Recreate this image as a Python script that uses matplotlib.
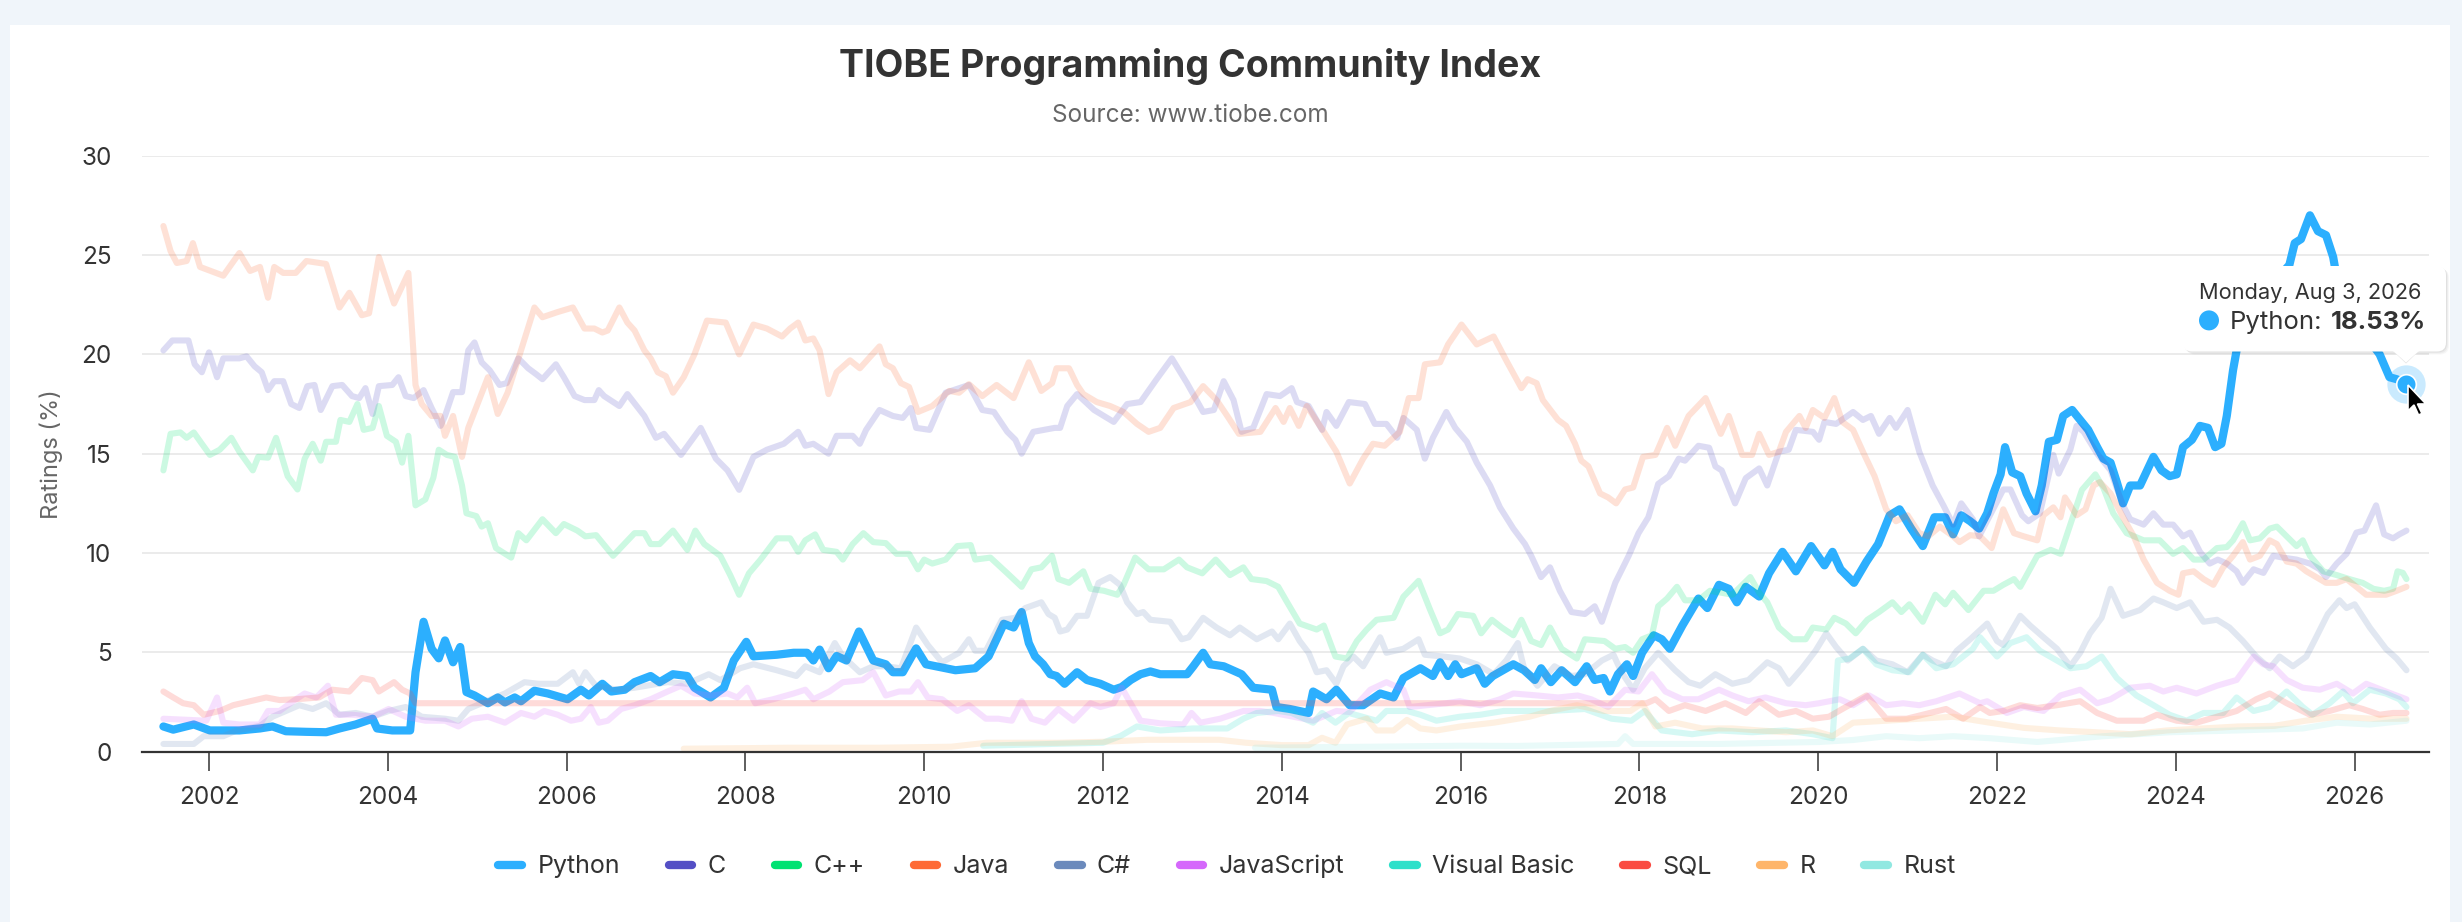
import matplotlib
matplotlib.use('Agg')
import matplotlib.pyplot as plt
from matplotlib.lines import Line2D
from matplotlib.patches import Rectangle, FancyBboxPatch, Polygon, Circle
from matplotlib.transforms import IdentityTransform

plt.rcParams['font.family'] = ['Inter', 'DejaVu Sans']

W, H = 2462, 922  # output size in pixels (dpi 100)

# ---------------------------------------------------------------
# Data: (decimal year, rating %)
# ---------------------------------------------------------------
PYTHON = [
    (2001.49, 1.27), (2001.60, 1.11), (2001.83, 1.37), (2002.01, 1.07), (2002.34, 1.07),
    (2002.57, 1.17), (2002.71, 1.27), (2002.86, 1.03), (2003.09, 1.0), (2003.31, 0.98),
    (2003.46, 1.17), (2003.64, 1.37), (2003.83, 1.66), (2003.88, 1.17), (2004.05, 1.07),
    (2004.25, 1.07), (2004.31, 4.0), (2004.40, 6.54), (2004.49, 5.18), (2004.57, 4.7),
    (2004.64, 5.6), (2004.73, 4.5), (2004.81, 5.27), (2004.88, 3.0), (2004.97, 2.83),
    (2005.12, 2.44), (2005.23, 2.73), (2005.31, 2.48), (2005.42, 2.73), (2005.49, 2.54),
    (2005.64, 3.07), (2005.79, 2.93), (2006.01, 2.64), (2006.16, 3.12), (2006.25, 2.83),
    (2006.40, 3.42), (2006.50, 3.03), (2006.65, 3.12), (2006.76, 3.5), (2006.94, 3.81),
    (2007.04, 3.5), (2007.19, 3.9), (2007.35, 3.81), (2007.43, 3.22), (2007.61, 2.73),
    (2007.76, 3.22), (2007.87, 4.59), (2008.01, 5.53), (2008.09, 4.8), (2008.35, 4.88),
    (2008.54, 4.98), (2008.69, 4.98), (2008.76, 4.59), (2008.83, 5.14), (2008.93, 4.2),
    (2009.02, 4.82), (2009.13, 4.59), (2009.27, 6.05), (2009.43, 4.59), (2009.57, 4.4),
    (2009.65, 4.0), (2009.76, 4.0), (2009.91, 5.2), (2010.02, 4.4), (2010.35, 4.1),
    (2010.57, 4.2), (2010.72, 4.8), (2010.89, 6.44), (2011.0, 6.25), (2011.09, 7.03),
    (2011.17, 5.47), (2011.24, 4.8), (2011.33, 4.4), (2011.41, 3.9), (2011.48, 3.81),
    (2011.57, 3.42), (2011.71, 4.0), (2011.82, 3.61), (2011.97, 3.42), (2012.12, 3.12),
    (2012.21, 3.26), (2012.31, 3.61), (2012.42, 3.9), (2012.53, 4.04), (2012.64, 3.9),
    (2012.94, 3.9), (2013.01, 4.3), (2013.12, 4.98), (2013.20, 4.4), (2013.35, 4.3),
    (2013.55, 3.9), (2013.68, 3.22), (2013.89, 3.12), (2013.94, 2.25), (2014.09, 2.15),
    (2014.30, 1.95), (2014.35, 3.03), (2014.50, 2.64), (2014.61, 3.12), (2014.76, 2.34),
    (2014.91, 2.34), (2015.10, 2.93), (2015.25, 2.73), (2015.36, 3.71), (2015.55, 4.2),
    (2015.69, 3.81), (2015.77, 4.5), (2015.86, 3.81), (2015.94, 4.4), (2016.01, 3.9),
    (2016.18, 4.2), (2016.27, 3.42), (2016.36, 3.81), (2016.59, 4.4), (2016.71, 4.1),
    (2016.83, 3.61), (2016.90, 4.2), (2017.01, 3.5), (2017.13, 4.1), (2017.28, 3.5),
    (2017.41, 4.3), (2017.50, 3.61), (2017.60, 3.71), (2017.67, 3.03), (2017.76, 3.9),
    (2017.86, 4.4), (2017.93, 3.81), (2018.03, 4.98), (2018.16, 5.86), (2018.25, 5.66),
    (2018.34, 5.18), (2018.48, 6.35), (2018.66, 7.71), (2018.76, 7.23), (2018.89, 8.4),
    (2019.0, 8.2), (2019.09, 7.52), (2019.19, 8.3), (2019.34, 7.81), (2019.45, 8.98),
    (2019.60, 10.06), (2019.75, 9.08), (2019.92, 10.35), (2020.07, 9.38), (2020.16, 10.06),
    (2020.25, 9.18), (2020.40, 8.5), (2020.54, 9.57), (2020.67, 10.45), (2020.80, 11.9),
    (2020.91, 12.2), (2021.04, 11.23), (2021.17, 10.35), (2021.30, 11.8), (2021.42, 11.8),
    (2021.51, 10.94), (2021.60, 11.9), (2021.70, 11.6), (2021.80, 11.23), (2021.89, 12.0),
    (2021.96, 13.0), (2022.04, 13.96), (2022.09, 15.33), (2022.17, 14.06), (2022.26, 13.87),
    (2022.33, 13.0), (2022.43, 12.1), (2022.50, 13.4), (2022.58, 15.6), (2022.67, 15.7),
    (2022.74, 16.9), (2022.84, 17.2), (2022.93, 16.7), (2023.02, 16.2), (2023.12, 15.33),
    (2023.19, 14.75), (2023.27, 14.55), (2023.34, 13.57), (2023.41, 12.5), (2023.49, 13.4),
    (2023.60, 13.4), (2023.75, 14.84), (2023.84, 14.16), (2023.93, 13.87), (2024.01, 13.96),
    (2024.08, 15.33), (2024.18, 15.7), (2024.27, 16.4), (2024.36, 16.3), (2024.44, 15.33),
    (2024.51, 15.5), (2024.57, 16.9), (2024.64, 19.2), (2024.72, 21.2), (2024.85, 22.6),
    (2025.0, 23.3), (2025.15, 23.9), (2025.27, 24.5), (2025.33, 25.6), (2025.40, 25.8),
    (2025.50, 27.0), (2025.59, 26.2), (2025.68, 26.0), (2025.76, 24.9), (2025.85, 22.6),
    (2026.0, 21.6), (2026.15, 20.8), (2026.28, 20.0), (2026.39, 18.85), (2026.47, 18.75),
    (2026.58, 18.53),
]

C_LANG = [
    (2001.49, 20.2), (2001.59, 20.7), (2001.77, 20.7), (2001.84, 19.5), (2001.92, 19.1),
    (2002.00, 20.1), (2002.09, 18.85), (2002.16, 19.8), (2002.34, 19.8), (2002.42, 19.9),
    (2002.51, 19.4), (2002.59, 19.1), (2002.66, 18.2), (2002.73, 18.65), (2002.83, 18.65),
    (2002.92, 17.5), (2003.01, 17.3), (2003.10, 18.4), (2003.18, 18.46), (2003.25, 17.2),
    (2003.38, 18.4), (2003.49, 18.46), (2003.60, 17.9), (2003.68, 17.8), (2003.75, 18.3),
    (2003.83, 17.0), (2003.90, 18.4), (2004.05, 18.46), (2004.12, 18.85), (2004.20, 17.9),
    (2004.29, 17.8), (2004.40, 18.2), (2004.49, 17.3), (2004.59, 16.4), (2004.64, 16.9),
    (2004.73, 18.1), (2004.83, 18.1), (2004.90, 20.2), (2004.97, 20.6), (2005.05, 19.6),
    (2005.14, 19.2), (2005.25, 18.46), (2005.33, 18.55), (2005.46, 19.8), (2005.57, 19.3),
    (2005.66, 19.0), (2005.73, 18.75), (2005.88, 19.5), (2005.97, 18.85), (2006.09, 17.9),
    (2006.20, 17.7), (2006.31, 17.7), (2006.36, 18.2), (2006.42, 17.9), (2006.59, 17.4),
    (2006.68, 18.0), (2006.87, 16.9), (2007.0, 15.8), (2007.09, 16.0), (2007.28, 14.94),
    (2007.50, 16.3), (2007.67, 14.75), (2007.80, 14.16), (2007.93, 13.18), (2008.09, 14.84),
    (2008.24, 15.2), (2008.43, 15.5), (2008.59, 16.1), (2008.67, 15.4), (2008.76, 15.5),
    (2008.93, 15.0), (2009.02, 15.9), (2009.20, 15.9), (2009.28, 15.5), (2009.35, 16.2),
    (2009.50, 17.2), (2009.65, 16.9), (2009.76, 16.8), (2009.85, 17.3), (2009.91, 16.3),
    (2010.06, 16.2), (2010.24, 18.07), (2010.50, 18.46), (2010.65, 17.2), (2010.78, 17.1),
    (2010.93, 16.1), (2011.02, 15.7), (2011.09, 15.0), (2011.22, 16.1), (2011.46, 16.3),
    (2011.52, 16.3), (2011.60, 17.4), (2011.71, 18.0), (2011.90, 17.2), (2012.12, 16.6),
    (2012.27, 17.5), (2012.42, 17.6), (2012.60, 18.75), (2012.77, 19.8), (2012.94, 18.55),
    (2013.12, 17.1), (2013.24, 17.2), (2013.35, 18.65), (2013.46, 17.7), (2013.55, 16.1),
    (2013.68, 16.3), (2013.83, 18.0), (2013.98, 17.9), (2014.11, 18.3), (2014.17, 17.6),
    (2014.30, 17.4), (2014.45, 16.2), (2014.50, 17.1), (2014.61, 16.4), (2014.75, 17.6),
    (2014.93, 17.5), (2015.04, 16.5), (2015.17, 16.5), (2015.29, 15.8), (2015.36, 16.8),
    (2015.51, 16.2), (2015.60, 14.75), (2015.69, 15.8), (2015.84, 17.1), (2015.94, 16.3),
    (2016.07, 15.6), (2016.18, 14.55), (2016.33, 13.4), (2016.44, 12.3), (2016.59, 11.23),
    (2016.72, 10.45), (2016.79, 9.86), (2016.90, 8.79), (2017.0, 9.28), (2017.11, 8.1),
    (2017.24, 7.03), (2017.39, 6.93), (2017.50, 7.32), (2017.58, 6.54), (2017.73, 8.5),
    (2017.88, 9.86), (2017.99, 11.0), (2018.10, 11.8), (2018.21, 13.48), (2018.33, 13.87),
    (2018.44, 14.75), (2018.51, 14.65), (2018.66, 15.4), (2018.78, 15.3), (2018.85, 14.36),
    (2018.92, 14.16), (2019.07, 12.5), (2019.19, 13.77), (2019.34, 14.26), (2019.43, 13.4),
    (2019.56, 15.1), (2019.67, 15.2), (2019.75, 16.2), (2019.94, 16.1), (2020.01, 15.7),
    (2020.07, 16.6), (2020.20, 16.5), (2020.39, 17.1), (2020.50, 16.7), (2020.59, 16.9),
    (2020.68, 16.0), (2020.80, 16.8), (2020.87, 16.3), (2021.0, 17.2), (2021.13, 15.1),
    (2021.28, 13.4), (2021.40, 12.4), (2021.51, 11.43), (2021.60, 12.5), (2021.73, 11.7),
    (2021.80, 10.84), (2022.07, 13.2), (2022.15, 13.2), (2022.28, 11.9), (2022.35, 11.6),
    (2022.48, 12.0), (2022.63, 14.94), (2022.69, 14.0), (2022.82, 15.2), (2022.89, 16.4),
    (2022.97, 16.1), (2023.12, 15.0), (2023.27, 14.16), (2023.36, 13.0), (2023.41, 12.4),
    (2023.49, 11.7), (2023.64, 11.43), (2023.75, 12.0), (2023.86, 11.43), (2023.97, 11.43),
    (2024.08, 10.84), (2024.16, 11.03), (2024.27, 10.06), (2024.38, 9.47), (2024.47, 9.67),
    (2024.57, 9.47), (2024.68, 9.08), (2024.75, 8.5), (2024.87, 9.18), (2024.98, 9.0),
    (2025.09, 9.86), (2025.20, 9.77), (2025.35, 9.67), (2025.50, 9.47), (2025.61, 9.18),
    (2025.68, 8.79), (2025.80, 9.47), (2025.91, 9.96), (2026.02, 11.03), (2026.11, 11.13),
    (2026.24, 12.4), (2026.33, 10.94), (2026.43, 10.74), (2026.50, 10.94), (2026.58, 11.13),
]

CPP = [
    (2001.49, 14.16), (2001.57, 16.0), (2001.68, 16.07), (2001.75, 15.8), (2001.83, 16.07),
    (2001.92, 15.5), (2002.01, 14.94), (2002.12, 15.2), (2002.25, 15.8), (2002.34, 15.1),
    (2002.49, 14.16), (2002.55, 14.84), (2002.66, 14.8), (2002.75, 15.8), (2002.88, 13.87),
    (2002.99, 13.2), (2003.07, 14.75), (2003.16, 15.5), (2003.25, 14.65), (2003.31, 15.6),
    (2003.42, 15.6), (2003.47, 16.7), (2003.57, 16.6), (2003.66, 17.5), (2003.73, 16.2),
    (2003.83, 16.3), (2003.90, 17.4), (2003.99, 15.9), (2004.09, 15.6), (2004.16, 14.55),
    (2004.23, 15.9), (2004.31, 12.4), (2004.42, 12.7), (2004.51, 13.8), (2004.57, 15.2),
    (2004.66, 14.94), (2004.75, 14.84), (2004.83, 13.4), (2004.88, 12.0), (2004.99, 11.86),
    (2005.05, 11.33), (2005.12, 11.5), (2005.21, 10.25), (2005.38, 9.77), (2005.46, 11.0),
    (2005.55, 10.64), (2005.73, 11.7), (2005.88, 11.0), (2005.97, 11.46), (2006.12, 11.13),
    (2006.21, 10.84), (2006.33, 10.9), (2006.52, 9.86), (2006.76, 11.0), (2006.87, 11.0),
    (2006.94, 10.45), (2007.04, 10.45), (2007.19, 11.13), (2007.35, 10.16), (2007.44, 11.13),
    (2007.54, 10.45), (2007.72, 9.86), (2007.83, 8.89), (2007.93, 7.9), (2008.04, 8.98),
    (2008.17, 9.67), (2008.35, 10.74), (2008.50, 10.74), (2008.59, 10.06), (2008.67, 10.64),
    (2008.78, 10.94), (2008.87, 10.16), (2009.02, 10.06), (2009.09, 9.67), (2009.20, 10.45),
    (2009.32, 11.0), (2009.43, 10.55), (2009.57, 10.5), (2009.69, 9.96), (2009.83, 9.96),
    (2009.93, 9.18), (2010.0, 9.67), (2010.09, 9.47), (2010.24, 9.67), (2010.37, 10.35),
    (2010.52, 10.4), (2010.57, 9.67), (2010.74, 9.77), (2010.93, 8.98), (2011.09, 8.3),
    (2011.20, 9.18), (2011.31, 9.28), (2011.43, 9.86), (2011.50, 8.69), (2011.62, 8.5),
    (2011.78, 9.08), (2011.86, 8.2), (2012.01, 8.1), (2012.16, 7.9), (2012.23, 8.4),
    (2012.36, 9.77), (2012.51, 9.18), (2012.68, 9.18), (2012.85, 9.67), (2012.94, 9.28),
    (2013.11, 8.98), (2013.26, 9.67), (2013.42, 8.89), (2013.57, 9.28), (2013.66, 8.69),
    (2013.83, 8.59), (2013.96, 8.3), (2014.06, 7.52), (2014.20, 6.45), (2014.39, 6.15),
    (2014.47, 6.35), (2014.60, 4.79), (2014.73, 4.69), (2014.84, 5.57), (2014.95, 6.15),
    (2015.06, 6.64), (2015.25, 6.74), (2015.36, 7.8), (2015.53, 8.6), (2015.66, 7.13),
    (2015.77, 5.96), (2015.86, 6.15), (2015.97, 6.93), (2016.14, 6.84), (2016.23, 5.96),
    (2016.35, 6.64), (2016.46, 6.25), (2016.59, 5.86), (2016.68, 6.64), (2016.79, 5.57),
    (2016.90, 5.37), (2017.0, 6.25), (2017.13, 5.18), (2017.30, 4.69), (2017.39, 5.66),
    (2017.61, 5.57), (2017.73, 5.18), (2017.84, 5.27), (2017.93, 4.98), (2018.03, 5.66),
    (2018.14, 5.86), (2018.21, 7.32), (2018.31, 7.71), (2018.42, 8.3), (2018.51, 7.62),
    (2018.66, 7.62), (2018.79, 8.1), (2018.92, 8.0), (2019.04, 7.9), (2019.24, 8.79),
    (2019.34, 8.0), (2019.43, 7.52), (2019.56, 6.25), (2019.71, 5.66), (2019.86, 5.66),
    (2019.94, 6.25), (2020.09, 6.15), (2020.18, 6.74), (2020.31, 6.45), (2020.42, 5.96),
    (2020.55, 6.64), (2020.68, 7.03), (2020.83, 7.52), (2020.93, 7.03), (2021.02, 7.42),
    (2021.17, 6.54), (2021.31, 7.9), (2021.42, 7.42), (2021.51, 8.0), (2021.68, 7.13),
    (2021.85, 8.1), (2021.96, 8.1), (2022.07, 8.4), (2022.19, 8.69), (2022.26, 8.3),
    (2022.45, 9.86), (2022.60, 10.16), (2022.71, 9.96), (2022.82, 11.43), (2022.95, 13.18),
    (2023.10, 13.96), (2023.19, 13.28), (2023.30, 12.0), (2023.45, 11.0), (2023.64, 10.64),
    (2023.82, 10.64), (2023.97, 9.96), (2024.08, 10.25), (2024.20, 9.67), (2024.31, 9.67),
    (2024.46, 10.25), (2024.57, 10.3), (2024.64, 10.64), (2024.75, 11.5), (2024.83, 10.64),
    (2024.94, 10.74), (2025.05, 11.23), (2025.13, 11.33), (2025.24, 10.84), (2025.35, 10.35),
    (2025.42, 10.64), (2025.50, 9.86), (2025.65, 9.08), (2025.80, 8.89), (2025.94, 8.69),
    (2026.09, 8.5), (2026.21, 8.2), (2026.33, 8.1), (2026.43, 8.2), (2026.48, 9.08),
    (2026.54, 9.0), (2026.58, 8.69),
]

JAVA = [
    (2001.49, 26.46), (2001.57, 25.2), (2001.64, 24.6), (2001.75, 24.7), (2001.82, 25.6),
    (2001.90, 24.4), (2002.16, 23.96), (2002.34, 25.1), (2002.46, 24.2), (2002.57, 24.4),
    (2002.66, 22.85), (2002.73, 24.4), (2002.83, 24.1), (2002.97, 24.1), (2003.09, 24.7),
    (2003.31, 24.55), (2003.46, 22.36), (2003.57, 23.1), (2003.71, 21.97), (2003.79, 22.07),
    (2003.90, 24.9), (2004.07, 22.56), (2004.23, 24.1), (2004.31, 18.46), (2004.38, 17.5),
    (2004.49, 16.9), (2004.59, 16.9), (2004.64, 15.9), (2004.73, 16.9), (2004.83, 14.84),
    (2004.90, 16.3), (2005.12, 18.85), (2005.23, 17.0), (2005.34, 18.07), (2005.49, 20.2),
    (2005.64, 22.36), (2005.73, 21.87), (2005.90, 22.13), (2006.07, 22.36), (2006.20, 21.3),
    (2006.31, 21.3), (2006.40, 21.1), (2006.46, 21.2), (2006.59, 22.36), (2006.68, 21.6),
    (2006.76, 21.2), (2006.87, 20.2), (2006.94, 19.8), (2007.02, 19.1), (2007.11, 18.9),
    (2007.19, 18.07), (2007.31, 18.85), (2007.43, 20.0), (2007.57, 21.7), (2007.78, 21.6),
    (2007.93, 20.0), (2008.09, 21.5), (2008.24, 21.3), (2008.41, 20.9), (2008.50, 21.3),
    (2008.59, 21.6), (2008.67, 20.7), (2008.76, 20.8), (2008.83, 20.2), (2008.93, 18.0),
    (2009.02, 19.1), (2009.17, 19.7), (2009.28, 19.3), (2009.50, 20.4), (2009.57, 19.5),
    (2009.65, 19.3), (2009.74, 18.55), (2009.83, 18.36), (2009.93, 17.1), (2010.09, 17.4),
    (2010.28, 18.16), (2010.39, 18.07), (2010.50, 18.5), (2010.65, 17.9), (2010.81, 18.46),
    (2011.0, 17.8), (2011.17, 19.6), (2011.31, 18.16), (2011.43, 18.55), (2011.48, 19.3),
    (2011.62, 19.3), (2011.71, 18.46), (2011.78, 18.0), (2011.93, 17.6), (2012.08, 17.4),
    (2012.23, 17.1), (2012.38, 16.5), (2012.51, 16.1), (2012.64, 16.3), (2012.79, 17.3),
    (2012.98, 17.6), (2013.12, 18.4), (2013.27, 17.7), (2013.39, 16.9), (2013.52, 16.0),
    (2013.76, 16.1), (2013.93, 17.3), (2014.02, 16.6), (2014.09, 17.3), (2014.19, 16.4),
    (2014.28, 17.4), (2014.47, 16.1), (2014.61, 15.1), (2014.76, 13.5), (2014.91, 14.75),
    (2015.02, 15.5), (2015.15, 15.4), (2015.32, 16.1), (2015.42, 17.8), (2015.53, 17.8),
    (2015.60, 19.5), (2015.77, 19.6), (2015.86, 20.5), (2016.01, 21.5), (2016.18, 20.5),
    (2016.37, 20.9), (2016.51, 19.7), (2016.68, 18.3), (2016.75, 18.75), (2016.85, 18.55),
    (2016.92, 17.7), (2017.09, 16.7), (2017.18, 16.4), (2017.28, 15.5), (2017.35, 14.65),
    (2017.43, 14.36), (2017.56, 13.0), (2017.65, 12.8), (2017.74, 12.5), (2017.84, 13.2),
    (2017.93, 13.3), (2018.04, 14.84), (2018.18, 14.94), (2018.31, 16.3), (2018.40, 15.4),
    (2018.55, 16.9), (2018.74, 17.8), (2018.91, 16.0), (2019.0, 16.9), (2019.15, 14.94),
    (2019.26, 14.94), (2019.34, 16.0), (2019.45, 14.94), (2019.56, 15.1), (2019.64, 16.1),
    (2019.79, 16.9), (2019.86, 16.3), (2019.94, 17.2), (2020.07, 16.8), (2020.18, 17.8),
    (2020.27, 16.6), (2020.39, 16.2), (2020.50, 15.1), (2020.63, 13.87), (2020.76, 12.2),
    (2020.87, 11.6), (2021.0, 11.9), (2021.13, 11.0), (2021.23, 10.84), (2021.36, 11.33),
    (2021.51, 10.84), (2021.58, 10.55), (2021.70, 10.9), (2021.81, 10.84), (2021.94, 10.25),
    (2022.07, 12.2), (2022.19, 11.0), (2022.30, 10.84), (2022.45, 10.64), (2022.52, 11.9),
    (2022.63, 12.3), (2022.71, 11.8), (2022.76, 12.8), (2022.89, 11.9), (2022.99, 12.2),
    (2023.08, 13.4), (2023.15, 13.57), (2023.27, 13.0), (2023.41, 11.8), (2023.53, 10.84),
    (2023.64, 9.67), (2023.79, 8.5), (2023.93, 8.1), (2024.03, 7.9), (2024.08, 8.98),
    (2024.20, 9.08), (2024.31, 8.69), (2024.42, 8.4), (2024.53, 9.28), (2024.64, 9.86),
    (2024.75, 10.55), (2024.83, 9.67), (2024.94, 9.86), (2025.05, 10.64), (2025.13, 10.45),
    (2025.24, 9.57), (2025.35, 9.47), (2025.46, 9.08), (2025.57, 8.79), (2025.68, 8.5),
    (2025.80, 8.5), (2025.91, 8.69), (2026.02, 8.3), (2026.13, 7.9), (2026.35, 7.9),
    (2026.47, 8.1), (2026.58, 8.3),
]

CSHARP = [
    (2001.49, 0.39), (2001.83, 0.39), (2001.94, 0.78), (2002.16, 0.78), (2002.31, 1.07),
    (2002.57, 1.3), (2002.71, 1.76), (2002.86, 2.05), (2003.01, 2.34), (2003.16, 2.15),
    (2003.31, 2.44), (2003.46, 1.86), (2003.64, 1.95), (2003.83, 1.76), (2004.01, 2.05),
    (2004.20, 2.25), (2004.38, 1.76), (2004.64, 1.66), (2004.79, 1.56), (2004.90, 2.15),
    (2005.05, 2.44), (2005.31, 2.93), (2005.53, 3.5), (2005.68, 3.42), (2005.90, 3.42),
    (2006.07, 4.0), (2006.14, 3.42), (2006.21, 4.0), (2006.33, 3.3), (2006.57, 3.12),
    (2006.76, 3.22), (2007.13, 3.5), (2007.35, 3.42), (2007.59, 3.9), (2007.72, 3.6),
    (2007.94, 4.2), (2008.09, 4.4), (2008.35, 4.1), (2008.57, 3.81), (2008.67, 4.3),
    (2008.83, 4.0), (2009.0, 5.47), (2009.09, 4.8), (2009.28, 4.0), (2009.43, 4.3),
    (2009.57, 4.3), (2009.74, 4.2), (2009.91, 6.25), (2010.04, 5.37), (2010.20, 4.5),
    (2010.39, 4.98), (2010.50, 5.66), (2010.57, 5.08), (2010.69, 5.08), (2010.87, 6.64),
    (2011.02, 6.74), (2011.13, 7.23), (2011.31, 7.52), (2011.39, 6.93), (2011.46, 6.74),
    (2011.52, 6.05), (2011.60, 6.15), (2011.71, 6.84), (2011.82, 6.84), (2011.95, 8.5),
    (2012.08, 8.79), (2012.19, 8.4), (2012.27, 7.52), (2012.38, 6.93), (2012.45, 7.03),
    (2012.53, 6.64), (2012.75, 6.54), (2012.88, 5.66), (2012.96, 5.76), (2013.12, 6.74),
    (2013.27, 6.25), (2013.42, 5.86), (2013.53, 6.25), (2013.72, 5.66), (2013.89, 6.05),
    (2013.96, 5.66), (2014.09, 6.45), (2014.20, 5.57), (2014.30, 4.98), (2014.39, 4.0),
    (2014.50, 4.1), (2014.61, 3.42), (2014.69, 4.3), (2014.80, 4.79), (2014.91, 4.3),
    (2015.10, 5.76), (2015.17, 4.98), (2015.36, 5.18), (2015.53, 5.66), (2015.60, 4.88),
    (2015.81, 4.79), (2015.99, 4.69), (2016.18, 4.4), (2016.37, 3.9), (2016.51, 4.59),
    (2016.64, 5.47), (2016.71, 4.2), (2016.86, 3.32), (2017.05, 4.3), (2017.24, 3.81),
    (2017.39, 3.9), (2017.58, 4.59), (2017.71, 4.88), (2017.80, 4.0), (2017.93, 3.12),
    (2018.06, 4.2), (2018.21, 4.98), (2018.40, 4.1), (2018.55, 3.5), (2018.68, 3.32),
    (2018.85, 3.9), (2019.04, 3.42), (2019.22, 3.61), (2019.43, 4.5), (2019.56, 4.2),
    (2019.67, 3.42), (2019.82, 4.2), (2019.97, 5.08), (2020.09, 5.96), (2020.20, 5.27),
    (2020.33, 4.59), (2020.50, 5.18), (2020.65, 4.59), (2020.83, 4.4), (2021.0, 4.0),
    (2021.17, 4.88), (2021.28, 4.59), (2021.43, 4.3), (2021.55, 5.08), (2021.70, 5.66),
    (2021.89, 6.45), (2022.0, 5.57), (2022.07, 5.37), (2022.26, 6.84), (2022.37, 6.35),
    (2022.52, 5.76), (2022.67, 5.18), (2022.82, 4.3), (2022.93, 4.98), (2023.04, 5.96),
    (2023.17, 6.74), (2023.27, 8.2), (2023.41, 6.84), (2023.60, 7.13), (2023.75, 7.71),
    (2023.86, 7.52), (2024.01, 7.23), (2024.16, 7.52), (2024.31, 6.54), (2024.46, 6.64),
    (2024.60, 6.25), (2024.75, 5.57), (2024.90, 4.79), (2025.05, 4.2), (2025.16, 4.79),
    (2025.31, 4.3), (2025.46, 4.79), (2025.57, 5.76), (2025.70, 6.93), (2025.83, 7.62),
    (2025.91, 7.23), (2026.0, 7.42), (2026.17, 6.25), (2026.35, 5.18), (2026.47, 4.69),
    (2026.58, 4.1),
]

JAVASCRIPT = [
    (2001.49, 1.66), (2001.97, 1.56), (2002.09, 2.73), (2002.16, 1.46), (2002.34, 1.37),
    (2002.57, 1.37), (2002.66, 2.05), (2002.79, 2.05), (2002.94, 2.54), (2003.07, 2.93),
    (2003.20, 2.73), (2003.33, 3.32), (2003.42, 1.86), (2003.60, 1.86), (2003.83, 1.76),
    (2004.01, 2.15), (2004.20, 1.76), (2004.42, 1.56), (2004.64, 1.56), (2004.79, 1.27),
    (2004.94, 1.66), (2005.12, 1.76), (2005.31, 1.46), (2005.49, 1.95), (2005.64, 1.76),
    (2005.75, 2.05), (2005.90, 1.86), (2006.05, 1.56), (2006.16, 1.66), (2006.27, 2.25),
    (2006.36, 1.46), (2006.46, 1.56), (2006.61, 2.15), (2006.76, 2.34), (2006.94, 2.64),
    (2007.13, 3.03), (2007.28, 3.32), (2007.43, 2.93), (2007.61, 2.83), (2007.80, 2.93),
    (2007.91, 2.73), (2008.02, 3.22), (2008.11, 2.44), (2008.31, 2.64), (2008.54, 2.93),
    (2008.67, 3.12), (2008.76, 2.64), (2008.94, 3.03), (2009.09, 3.5), (2009.31, 3.6),
    (2009.43, 4.0), (2009.57, 2.83), (2009.72, 3.03), (2009.85, 3.03), (2009.93, 3.5),
    (2010.04, 2.73), (2010.20, 2.64), (2010.37, 2.05), (2010.50, 2.34), (2010.69, 1.66),
    (2010.83, 1.66), (2010.98, 1.56), (2011.09, 2.54), (2011.20, 1.66), (2011.35, 1.46),
    (2011.50, 2.15), (2011.67, 1.56), (2011.86, 2.44), (2011.97, 2.25), (2012.12, 2.44),
    (2012.21, 3.22), (2012.42, 1.56), (2012.64, 1.43), (2012.90, 1.37), (2012.99, 1.95),
    (2013.09, 1.46), (2013.31, 1.66), (2013.57, 2.05), (2013.76, 2.05), (2013.91, 1.95),
    (2014.13, 1.76), (2014.35, 1.56), (2014.61, 2.05), (2014.76, 2.0), (2014.99, 3.12),
    (2015.17, 3.5), (2015.36, 3.12), (2015.43, 2.25), (2015.62, 2.34), (2015.84, 2.44),
    (2015.99, 2.54), (2016.22, 2.34), (2016.44, 2.64), (2016.59, 2.93), (2016.86, 2.83),
    (2017.09, 2.73), (2017.31, 2.83), (2017.46, 2.64), (2017.65, 2.25), (2017.84, 3.12),
    (2017.99, 3.03), (2018.14, 3.9), (2018.29, 3.03), (2018.48, 2.64), (2018.66, 2.64),
    (2018.89, 3.12), (2019.04, 2.83), (2019.22, 2.54), (2019.41, 2.73), (2019.64, 2.44),
    (2019.86, 2.34), (2020.01, 2.44), (2020.24, 2.64), (2020.39, 2.34), (2020.57, 2.83),
    (2020.76, 2.34), (2020.95, 2.44), (2021.13, 2.34), (2021.32, 2.54), (2021.58, 2.93),
    (2021.81, 2.44), (2021.89, 2.54), (2022.11, 1.95), (2022.30, 2.25), (2022.52, 2.05),
    (2022.71, 2.83), (2022.93, 3.12), (2023.12, 2.44), (2023.27, 2.64), (2023.49, 3.22),
    (2023.71, 3.32), (2023.86, 3.03), (2024.01, 3.22), (2024.23, 2.93), (2024.46, 3.32),
    (2024.68, 3.61), (2024.87, 4.79), (2024.98, 4.4), (2025.09, 4.3), (2025.24, 3.61),
    (2025.42, 3.22), (2025.61, 3.12), (2025.80, 3.42), (2025.98, 2.93), (2026.13, 3.42),
    (2026.35, 3.03), (2026.58, 2.64),
]

VISUAL_BASIC = [
    (2010.66, 0.3), (2011.5, 0.4), (2012.0, 0.45), (2012.2, 0.8), (2012.38, 1.27),
    (2012.64, 1.07), (2013.01, 1.17), (2013.39, 1.17), (2013.57, 1.66), (2013.72, 1.95),
    (2013.96, 2.05), (2014.11, 1.95), (2014.35, 1.46), (2014.45, 1.95), (2014.60, 1.46),
    (2014.75, 1.95), (2015.06, 1.56), (2015.17, 2.05), (2015.40, 2.05), (2015.55, 1.86),
    (2015.73, 1.56), (2015.99, 1.76), (2016.22, 1.86), (2016.48, 2.05), (2016.77, 2.05),
    (2017.0, 2.05), (2017.39, 2.15), (2017.69, 1.66), (2017.91, 1.56), (2018.06, 2.05),
    (2018.25, 1.07), (2018.59, 0.88), (2018.89, 1.07), (2019.26, 0.98), (2019.64, 1.07),
    (2019.94, 0.88), (2020.16, 0.68), (2020.22, 4.59), (2020.35, 4.69), (2020.50, 5.18),
    (2020.65, 4.4), (2020.83, 4.1), (2021.02, 4.0), (2021.17, 4.88), (2021.32, 4.2),
    (2021.51, 4.4), (2021.73, 5.18), (2021.81, 5.76), (2022.0, 4.79), (2022.15, 5.47),
    (2022.33, 5.76), (2022.48, 5.08), (2022.67, 4.59), (2022.82, 4.2), (2023.0, 4.3),
    (2023.17, 4.79), (2023.34, 3.71), (2023.56, 2.83), (2023.75, 2.34), (2023.93, 1.86),
    (2024.12, 1.56), (2024.31, 1.95), (2024.53, 1.95), (2024.68, 2.73), (2024.87, 2.05),
    (2025.05, 2.25), (2025.24, 3.03), (2025.42, 2.25), (2025.53, 1.86), (2025.72, 2.44),
    (2025.87, 3.03), (2025.98, 2.44), (2026.17, 3.12), (2026.35, 2.93), (2026.50, 2.64),
    (2026.58, 2.25),
]

SQL = [
    (2001.49, 3.03), (2001.60, 2.73), (2001.71, 2.44), (2001.83, 2.34), (2001.94, 1.86),
    (2002.12, 2.05), (2002.27, 2.34), (2002.46, 2.54), (2002.64, 2.73), (2002.79, 2.6),
    (2002.97, 2.64), (2003.23, 2.73), (2003.38, 3.12), (2003.57, 3.03), (2003.71, 3.71),
    (2003.83, 3.6), (2003.90, 3.03), (2004.07, 3.5), (2004.16, 3.12), (2004.25, 2.93),
    (2004.31, 2.44), (2018.08, 2.44), (2018.18, 2.64), (2018.33, 2.05), (2018.51, 2.34),
    (2018.74, 2.05), (2018.96, 2.44), (2019.19, 1.95), (2019.34, 2.54), (2019.56, 1.86),
    (2019.75, 2.05), (2019.94, 1.66), (2020.12, 1.76), (2020.27, 2.15), (2020.54, 2.83),
    (2020.76, 1.66), (2020.99, 1.66), (2021.25, 1.95), (2021.43, 2.15), (2021.62, 1.66),
    (2021.81, 2.25), (2021.92, 1.95), (2022.07, 2.05), (2022.26, 2.34), (2022.45, 2.2),
    (2022.67, 2.34), (2022.93, 2.54), (2023.12, 1.95), (2023.34, 1.56), (2023.64, 1.56),
    (2023.79, 1.86), (2024.01, 1.56), (2024.23, 1.46), (2024.46, 1.76), (2024.68, 2.05),
    (2024.90, 2.64), (2025.05, 2.93), (2025.24, 2.44), (2025.50, 1.86), (2025.72, 2.05),
    (2025.94, 2.34), (2026.09, 2.15), (2026.28, 1.86), (2026.43, 1.95), (2026.58, 1.95),
]

R_LANG = [
    (2007.31, 0.15), (2008.5, 0.2), (2009.5, 0.2), (2010.3, 0.25), (2010.7, 0.45),
    (2011.5, 0.45), (2012.0, 0.5), (2012.5, 0.6), (2013.3, 0.6), (2013.6, 0.45),
    (2014.0, 0.33), (2014.3, 0.33), (2014.45, 0.7), (2014.6, 0.45), (2014.73, 1.37),
    (2014.95, 1.66), (2015.06, 1.07), (2015.25, 1.07), (2015.40, 1.6), (2015.55, 1.17),
    (2015.73, 1.07), (2016.0, 1.27), (2016.37, 1.46), (2016.77, 1.76), (2017.0, 2.05),
    (2017.3, 2.34), (2017.6, 2.05), (2017.9, 2.05), (2018.03, 2.44), (2018.18, 1.27),
    (2018.40, 1.46), (2018.70, 1.17), (2019.04, 1.17), (2019.34, 1.07), (2019.64, 0.98),
    (2019.94, 1.07), (2020.16, 0.78), (2020.39, 1.46), (2020.76, 1.56), (2021.13, 1.66),
    (2021.51, 1.76), (2021.92, 1.46), (2022.3, 1.2), (2022.7, 1.07), (2023.1, 0.98),
    (2023.5, 0.88), (2023.9, 1.07), (2024.3, 1.17), (2024.7, 1.27), (2025.1, 1.3),
    (2025.45, 1.56), (2025.8, 1.76), (2026.2, 1.66), (2026.58, 1.66),
]

RUST = [
    (2013.7, 0.2), (2015.0, 0.25), (2016.0, 0.3), (2016.64, 0.29), (2017.76, 0.39),
    (2017.84, 0.78), (2017.93, 0.39), (2018.89, 0.39), (2020.01, 0.49), (2020.39, 0.59),
    (2020.76, 0.78), (2021.13, 0.68), (2021.51, 0.78), (2021.92, 0.68), (2022.45, 0.49),
    (2023.19, 0.78), (2023.93, 0.98), (2024.68, 1.07), (2025.42, 1.17), (2025.80, 1.46),
    (2026.17, 1.37), (2026.58, 1.56),
]

SERIES = [
    ('Python', PYTHON, '#2caffe'),
    ('C', C_LANG, '#544fc5'),
    ('C++', CPP, '#00e272'),
    ('Java', JAVA, '#fe6a35'),
    ('C#', CSHARP, '#6b8abc'),
    ('JavaScript', JAVASCRIPT, '#d568fb'),
    ('Visual Basic', VISUAL_BASIC, '#2ee0ca'),
    ('SQL', SQL, '#fa4b42'),
    ('R', R_LANG, '#feb56a'),
    ('Rust', RUST, '#91e8e1'),
]

YEAR_TICKS = list(range(2002, 2027, 2))
Y_TICKS = [0, 5, 10, 15, 20, 25, 30]
HOVER_DATE = 'Monday, Aug 3, 2026'


def px(x, y_top):
    """Pixel position measured from the top-left -> display coords."""
    return (x, H - y_top)


fig = plt.figure(figsize=(W / 100, H / 100), dpi=100)
fig.patch.set_facecolor('#f0f5fa')
fig.add_artist(Rectangle((9.5 / W, 0), (2450 - 9.5) / W, 1 - 25 / H,
                         transform=fig.transFigure, facecolor='white',
                         edgecolor='none', zorder=-10))

ax = fig.add_axes([142 / W, 1 - 751.7 / H, (2429 - 142) / W, (751.7 - 155.7) / H])
ax.set_facecolor('none')

# Python (hovered) first, the faded rest on top
for name, data, color in SERIES:
    xs = [d[0] for d in data]
    ys = [d[1] for d in data]
    if name == 'Python':
        ax.plot(xs, ys, color=color, lw=5.9, zorder=2,
                solid_capstyle='round', solid_joinstyle='round')
    else:
        ax.plot(xs, ys, color=color, lw=4.4, alpha=0.2, zorder=3,
                solid_capstyle='round', solid_joinstyle='round')

# hover marker on the last Python point
last_x, last_y = PYTHON[-1]
ax.scatter([last_x], [last_y], s=760, color='#2caffe', alpha=0.25, lw=0, zorder=6)
ax.scatter([last_x], [last_y], s=200, color='#2caffe', edgecolor='white', lw=1.2, zorder=7)

ax.set_xlim(2001.2506, 2026.832)
ax.set_ylim(0, 30)
ax.set_xticks(YEAR_TICKS)
ax.set_xticklabels([str(y) for y in YEAR_TICKS])
ax.set_yticks(Y_TICKS)
ax.set_yticklabels([str(v) for v in Y_TICKS])
ax.yaxis.grid(True, color='#e6e6e6', lw=1.1, zorder=0)
ax.set_axisbelow(True)
for side in ['top', 'right', 'left']:
    ax.spines[side].set_visible(False)
ax.spines['bottom'].set_color('#333333')
ax.spines['bottom'].set_linewidth(1.6)
ax.spines['bottom'].set_zorder(4)
ax.tick_params(axis='x', length=13.7, width=1.1, color='#333333', labelsize=17.5,
               labelcolor='#333333', pad=10.7)
ax.tick_params(axis='y', length=0, labelsize=17.5, labelcolor='#333333', pad=22)

fig.text(51.5 / W, 1 - 453.7 / H, 'Ratings (%)', rotation=90, ha='center', va='center',
         fontsize=17, color='#666666')

# title / subtitle
fig.text(1190 / W, 1 - 77.3 / H, 'TIOBE Programming Community Index', ha='center',
         va='baseline', fontsize=27, fontweight='bold', color='#333333')
fig.text(1190 / W, 1 - 121.7 / H, 'Source: www.tiobe.com', ha='center', va='baseline',
         fontsize=17.5, color='#666666')

# legend
handles = [Line2D([0], [0], color=c, lw=6, solid_capstyle='round') for _, _, c in SERIES]
labels = [n for n, _, _ in SERIES]
fig.legend(handles, labels, loc='center', bbox_to_anchor=(1227 / W, 1 - 866.7 / H),
           ncol=len(SERIES), frameon=False, fontsize=18, handlelength=0.95,
           handletextpad=0.61, columnspacing=1.95, labelcolor='#333333')

# tooltip
ident = IdentityTransform()
bx0, by_top, bx1, by_bot = 2183, 266, 2446, 351.5
for i, a in enumerate([0.05, 0.04, 0.03]):
    off = i + 1
    fig.add_artist(FancyBboxPatch(px(bx0 + off, by_bot + off), bx1 - bx0, by_bot - by_top,
                                  boxstyle='round,pad=0,rounding_size=9', transform=ident,
                                  facecolor='black', edgecolor='none', alpha=a, zorder=20))
fig.add_artist(Polygon([px(2393, by_bot - 1), px(2419, by_bot - 1), px(2406, 363)],
                       closed=True, transform=ident, facecolor='white', edgecolor='#e8e8e8',
                       lw=0.6, zorder=21))
fig.add_artist(FancyBboxPatch(px(bx0, by_bot), bx1 - bx0, by_bot - by_top,
                              boxstyle='round,pad=0,rounding_size=9', transform=ident,
                              facecolor='white', edgecolor='none', zorder=22))
fig.add_artist(Polygon([px(2393, by_bot - 0.5), px(2419, by_bot - 0.5), px(2406, 362)],
                       closed=True, transform=ident, facecolor='white', edgecolor='none',
                       zorder=23))
fig.text(2199 / W, 1 - 299 / H, HOVER_DATE, ha='left', va='baseline', fontsize=15.7,
         color='#333333', zorder=24)
fig.add_artist(Circle(px(2209, 320.4), 10, transform=ident, facecolor='#2caffe',
                      edgecolor='none', zorder=24))
t_name = fig.text(2230 / W, 1 - 329 / H, 'Python:', ha='left', va='baseline',
                  fontsize=18.5, color='#333333', zorder=24)
renderer = fig.canvas.get_renderer()
name_end = t_name.get_window_extent(renderer).x1
fig.text((name_end + 8) / W, 1 - 329 / H, f'{last_y:.2f}%', ha='left', va='baseline',
         fontsize=18.5, fontweight='bold', color='#333333', zorder=24)

# mouse cursor over the hovered point
cx, cy = 2408, 385
arrow = [(0, 0), (0, 26), (6, 20), (10.5, 30), (14, 28.5), (9.5, 19), (18, 19)]
fig.add_artist(Polygon([px(cx + dx, cy + dy) for dx, dy in arrow], closed=True,
                       transform=ident, facecolor='black', edgecolor='white', lw=1.2,
                       zorder=30))

fig.savefig('out.png', dpi=100, facecolor=fig.get_facecolor())
